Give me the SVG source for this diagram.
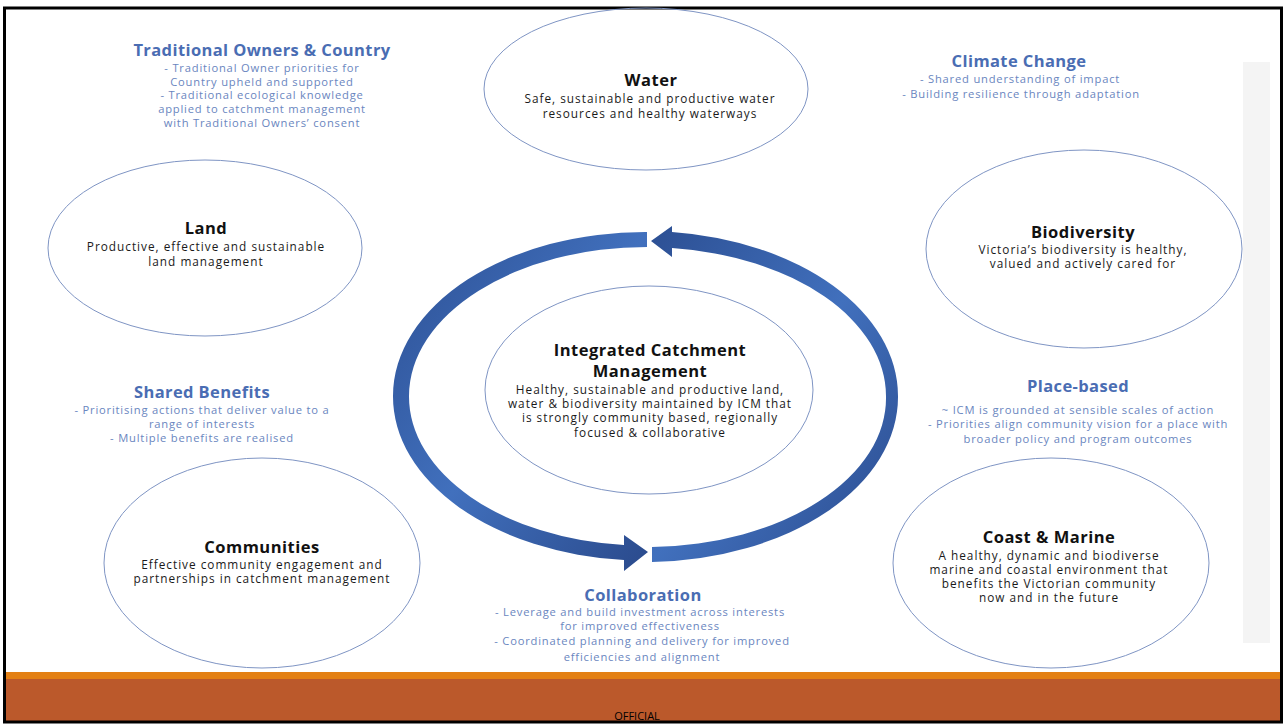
<svg xmlns="http://www.w3.org/2000/svg" width="1285" height="725" viewBox="0 0 1285 725">
<defs>
<style>
.node ellipse{fill:none;stroke:#7f95c4;stroke-width:1}
.t{font-family:"Open Sans","Liberation Sans",sans-serif;text-anchor:middle}
.h{font-weight:bold;font-size:16.5px;letter-spacing:0.5px;fill:#111}
.b{font-size:11.8px;letter-spacing:1px;fill:#1a1a1a}
.bh{font-weight:bold;font-size:16.5px;letter-spacing:0.4px;fill:#4a6db3}
.bs{font-size:11.2px;letter-spacing:0.8px;fill:#6a86c0}
.arrow{fill:url(#ag)}
</style>
<linearGradient id="ag" x1="0" y1="0" x2="1" y2="1">
<stop offset="0" stop-color="#2c4f93"/>
<stop offset="0.5" stop-color="#4170bd"/>
<stop offset="1" stop-color="#2a4a8c"/>
</linearGradient>
</defs>
<rect x="0" y="0" width="1285" height="725" fill="#ffffff"/>
<rect x="1243" y="62" width="27" height="581" fill="#f4f4f4"/>
<rect x="5" y="672" width="1276" height="7" fill="#e38014"/>
<rect x="5" y="679" width="1276" height="43" fill="#bb592b"/>
<rect x="4.5" y="8" width="1277" height="714" fill="none" stroke="#000" stroke-width="3"/>
<text class="t" x="637" y="720" font-size="11" fill="#000" font-family="Liberation Sans Narrow, Liberation Sans, sans-serif">OFFICIAL</text>

<g id="connectors">
<path class="arrow" d="M 647 232 A 252 164 0 0 0 393 396 A 252 164 0 0 0 624 560 L 624 571 L 648 552 L 624 535 L 624 545 A 236 149 0 0 1 409 396 A 238 149 0 0 1 647 247 Z"/>
<path class="arrow" d="M 652 562 A 253 165 0 0 0 898 396 A 253 165 0 0 0 672 232 L 672 226 L 651 241 L 672 257 L 672 248 A 240 149 0 0 1 886 396 A 240 149 0 0 1 652 547 Z"/>
</g>

<g id="water" class="node">
<ellipse cx="646" cy="89" rx="162" ry="81"/>
<text class="t h" x="651" y="86">Water</text>
<text class="t b" x="650" y="103">Safe, sustainable and productive water</text>
<text class="t b" x="650" y="118">resources and healthy waterways</text>
</g>
<g id="land" class="node">
<ellipse cx="205" cy="248" rx="157" ry="88"/>
<text class="t h" x="206" y="234">Land</text>
<text class="t b" x="206" y="251">Productive, effective and sustainable</text>
<text class="t b" x="206" y="266">land management</text>
</g>
<g id="biodiversity" class="node">
<ellipse cx="1084" cy="249" rx="158" ry="99"/>
<text class="t h" x="1083" y="238">Biodiversity</text>
<text class="t b" x="1083" y="254">Victoria’s biodiversity is healthy,</text>
<text class="t b" x="1083" y="268">valued and actively cared for</text>
</g>
<g id="icm" class="node">
<ellipse cx="649" cy="390" rx="164" ry="104"/>
<text class="t h" x="650" y="356" font-size="16" letter-spacing="0.9">Integrated Catchment</text>
<text class="t h" x="650" y="377" font-size="16" letter-spacing="0.9">Management</text>
<text class="t b" x="650" y="394">Healthy, sustainable and productive land,</text>
<text class="t b" x="650" y="408">water &amp; biodiversity maintained by ICM that</text>
<text class="t b" x="650" y="422">is strongly community based, regionally</text>
<text class="t b" x="650" y="437">focused &amp; collaborative</text>
</g>
<g id="communities" class="node">
<ellipse cx="262" cy="563" rx="158" ry="105"/>
<text class="t h" x="262" y="553">Communities</text>
<text class="t b" x="262" y="569">Effective community engagement and</text>
<text class="t b" x="262" y="583">partnerships in catchment management</text>
</g>
<g id="coast" class="node">
<ellipse cx="1051" cy="563" rx="158" ry="105"/>
<text class="t h" x="1049" y="543">Coast &amp; Marine</text>
<text class="t b" x="1049" y="560">A healthy, dynamic and biodiverse</text>
<text class="t b" x="1049" y="574">marine and coastal environment that</text>
<text class="t b" x="1049" y="588">benefits the Victorian community</text>
<text class="t b" x="1049" y="602">now and in the future</text>
</g>

<g id="traditional-owners">
<text class="t bh" x="262" y="56">Traditional Owners &amp; Country</text>
<text class="t bs" x="262" y="72">- Traditional Owner priorities for</text>
<text class="t bs" x="262" y="86">Country upheld and supported</text>
<text class="t bs" x="262" y="99">- Traditional ecological knowledge</text>
<text class="t bs" x="262" y="113">applied to catchment management</text>
<text class="t bs" x="262" y="127">with Traditional Owners’ consent</text>
</g>
<g id="climate-change">
<text class="t bh" x="1019" y="67">Climate Change</text>
<text class="t bs" x="1020" y="83">- Shared understanding of impact</text>
<text class="t bs" x="1021" y="98">- Building resilience through adaptation</text>
</g>
<g id="shared-benefits">
<text class="t bh" x="202" y="398">Shared Benefits</text>
<text class="t bs" x="202" y="414">- Prioritising actions that deliver value to a</text>
<text class="t bs" x="202" y="428">range of interests</text>
<text class="t bs" x="202" y="442">- Multiple benefits are realised</text>
</g>
<g id="place-based">
<text class="t bh" x="1078" y="392">Place-based</text>
<text class="t bs" x="1078" y="414">~ ICM is grounded at sensible scales of action</text>
<text class="t bs" x="1078" y="428">- Priorities align community vision for a place with</text>
<text class="t bs" x="1078" y="443">broader policy and program outcomes</text>
</g>
<g id="collaboration">
<text class="t bh" x="643" y="601">Collaboration</text>
<text class="t bs" x="640" y="616">- Leverage and build investment across interests</text>
<text class="t bs" x="640" y="630">for improved effectiveness</text>
<text class="t bs" x="642" y="645">- Coordinated planning and delivery for improved</text>
<text class="t bs" x="642" y="661">efficiencies and alignment</text>
</g>
</svg>
